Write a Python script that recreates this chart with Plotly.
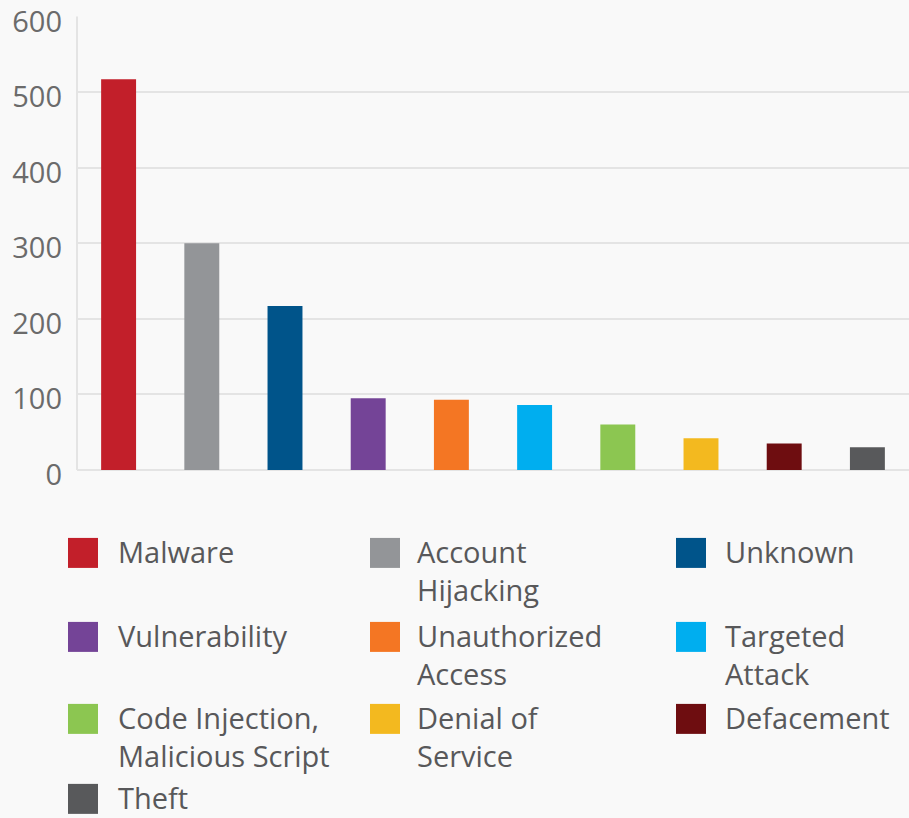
import plotly.graph_objects as go

categories = ["Malware", "Account Hijacking", "Unknown", "Vulnerability",
              "Unauthorized Access", "Targeted Attack",
              "Code Injection, Malicious Script", "Denial of Service",
              "Defacement", "Theft"]
values = [517, 300, 217, 95, 93, 86, 60, 42, 35, 30]
colors = ["#c21f2a", "#939598", "#00548a", "#744497", "#f47623",
          "#00aeef", "#8cc651", "#f3b91f", "#6e0d10", "#58595b"]
legend_labels = ["Malware", "Account<br>Hijacking", "Unknown",
                 "Vulnerability", "Unauthorized<br>Access", "Targeted<br>Attack",
                 "Code Injection,<br>Malicious Script", "Denial of<br>Service",
                 "Defacement", "Theft"]
y_ticks = [0, 100, 200, 300, 400, 500, 600]

W, H = 909, 818
L, T = 77, 16
Y_MIN, Y_TOP = -12, 600.6
SCALE = 454 / 600.6          # px per unit
PW = W - L
PH = (Y_TOP - Y_MIN) * SCALE
B = H - T - PH
BG = "#f9f9f9"
FONT = "Open Sans"
LABEL_SHIFT = 6.5            # tick labels sit a little below their gridlines


def px_x(px):
    return (px - L) / PW


def px_y(py):
    return (T + PH - py) / PH


fig = go.Figure(go.Bar(
    x=categories, y=values,
    marker=dict(color=colors, line=dict(width=0)),
    width=0.42, showlegend=False,
))
# carrier for the label axis
fig.add_trace(go.Scatter(x=[categories[0]], y=[None], yaxis="y2",
                         showlegend=False, hoverinfo="skip"))

# custom legend (3 columns)
sq_x = [68, 370, 676]
tx_x = [116, 415, 723]
row_tops = [538, 622, 704, 784]
sq = 30
shapes = [dict(type="line", xref="paper", yref="y", x0=0, x1=0,
               y0=0, y1=600, line=dict(color="#e4e4e4", width=2),
               layer="below")]
annos = []
for i, (lab, col) in enumerate(zip(legend_labels, colors)):
    c, r = i % 3, i // 3
    top = row_tops[r]
    shapes.append(dict(type="rect", xref="paper", yref="paper",
                       x0=px_x(sq_x[c]), x1=px_x(sq_x[c] + sq),
                       y0=px_y(top + sq), y1=px_y(top),
                       fillcolor=col, line=dict(width=0), layer="above"))
    annos.append(dict(xref="paper", yref="paper", x=px_x(tx_x[c]),
                      y=px_y(top - 8), xanchor="left", yanchor="top",
                      align="left", showarrow=False, text=lab,
                      font=dict(family=FONT, size=29, color="#58585a")))

fig.update_layout(
    width=W, height=H,
    margin=dict(l=L, r=0, t=T, b=B, pad=0, autoexpand=False),
    paper_bgcolor=BG, plot_bgcolor=BG,
    shapes=shapes, annotations=annos,
    font=dict(family=FONT),
    xaxis=dict(range=[-0.5, 9.5], showticklabels=False, showgrid=False,
               zeroline=False, showline=False, ticks="", fixedrange=True,
               automargin=False),
    yaxis=dict(range=[Y_MIN, Y_TOP], tickvals=y_ticks, showgrid=True,
               gridcolor="#e4e4e4", gridwidth=2, zeroline=False,
               showline=False, ticks="", showticklabels=False,
               automargin=False),
    yaxis2=dict(overlaying="y", side="left", anchor="x",
                range=[Y_MIN + LABEL_SHIFT, Y_TOP + LABEL_SHIFT],
                tickvals=y_ticks, showgrid=False, zeroline=False,
                showline=False, ticks="", ticklabelstandoff=14,
                ticklabeloverflow="allow", automargin=False,
                tickfont=dict(family=FONT, size=29, color="#6b6b6b")),
)

fig.write_html("out.html",
               config={"displayModeBar": False},
               post_script="document.body.style.margin='0';"
                           "document.body.style.overflow='hidden';")
